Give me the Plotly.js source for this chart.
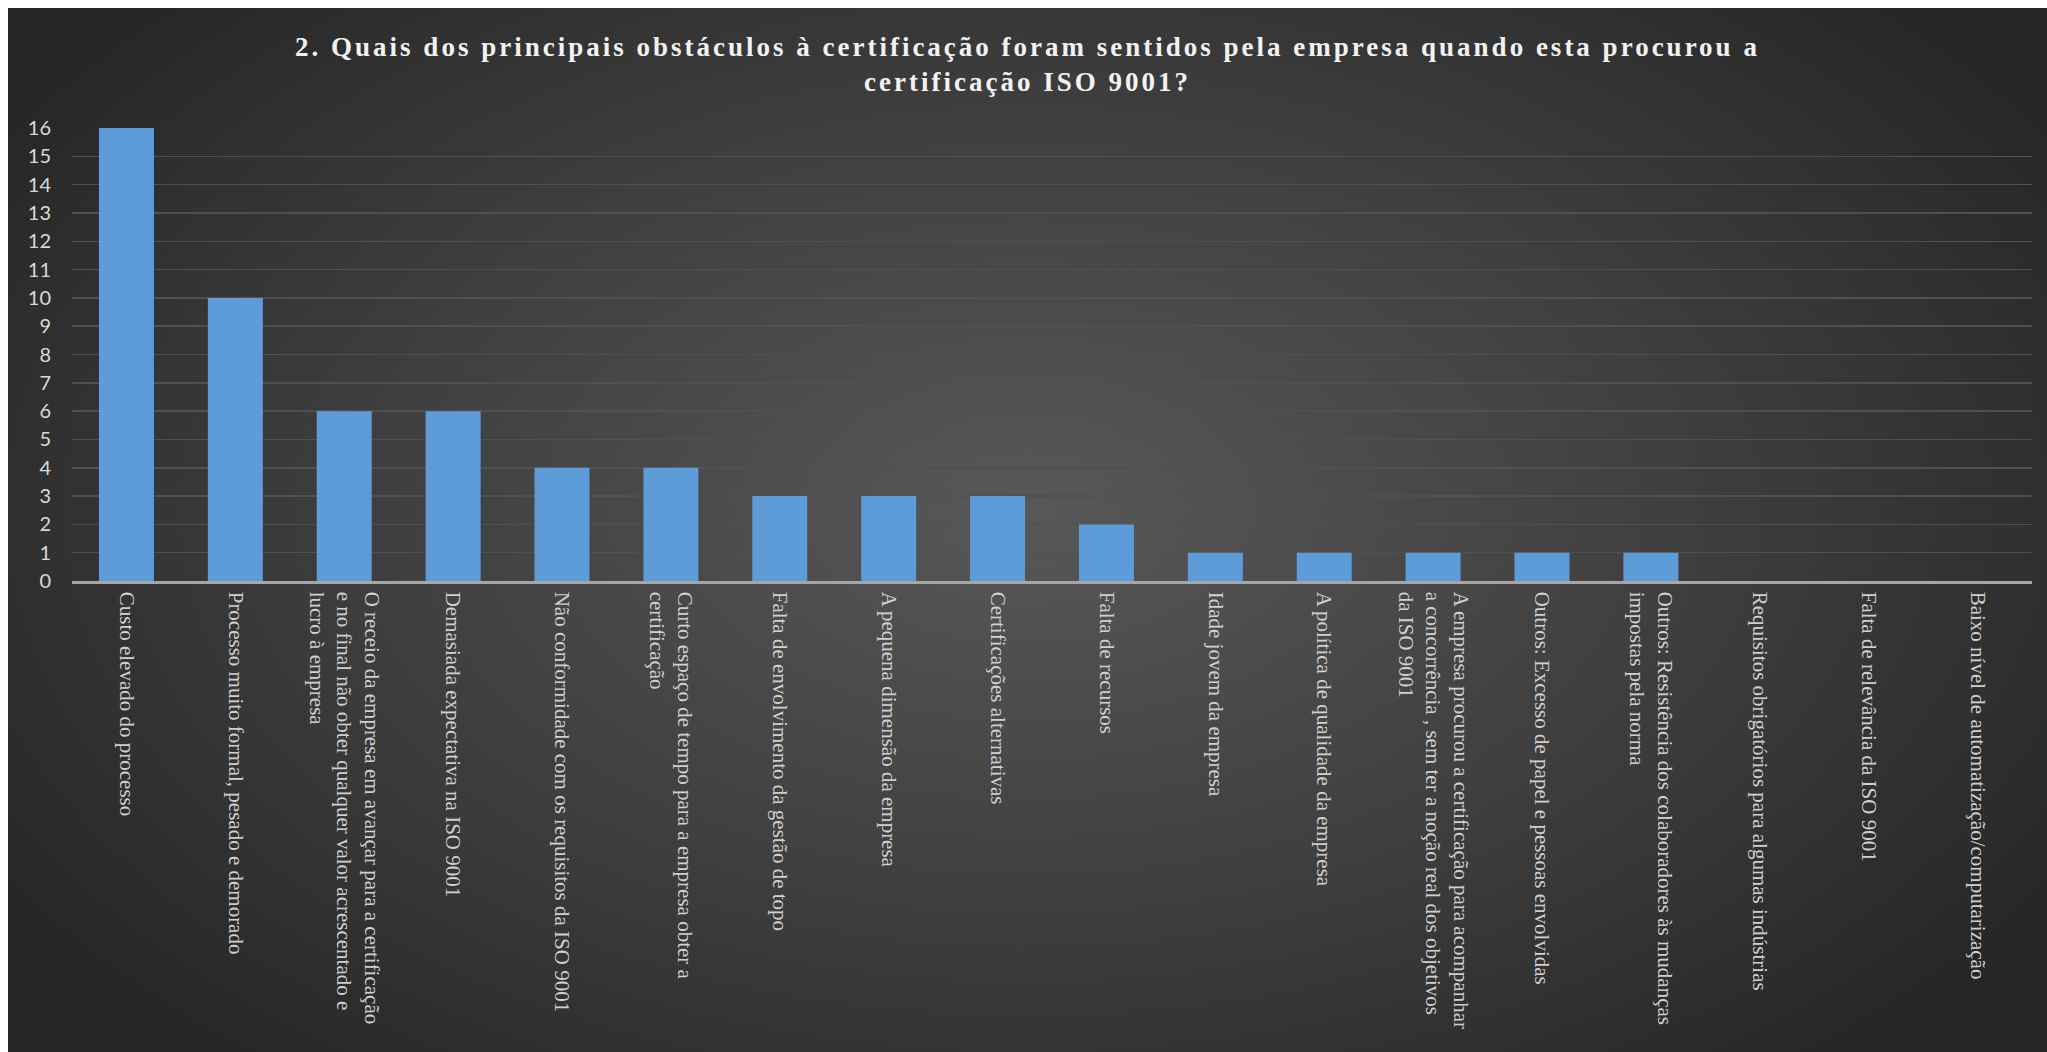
<!DOCTYPE html>
<html>
<head>
<meta charset="utf-8">
<script src="https://cdn.plot.ly/plotly-3.0.1.min.js"></script>
<style>
  html, body { margin: 0; padding: 0; background: #ffffff; width: 2047px; height: 1052px; overflow: hidden; }
  #wrap { position: absolute; left: 8px; top: 8px; width: 2039px; height: 1044px;
          background: radial-gradient(ellipse 60% 70% at 50% 48%, #585858 0%, #3e3e3e 55%, #262626 100%); }
  #chart { width: 2039px; height: 1044px; }
  .gtitle { letter-spacing: 3px; }
</style>
</head>
<body>
<div id="wrap"><div id="chart"></div></div>
<script>
const titleText = "2. Quais dos principais obstáculos à certificação foram sentidos pela empresa quando esta procurou a<br>certificação ISO 9001?";

const categories = [
  "Custo elevado do processo",
  "Processo muito formal, pesado e demorado",
  "O receio da empresa em avançar para a certificação<br>e no final não obter qualquer valor acrescentado e<br>lucro à empresa",
  "Demasiada expectativa na ISO 9001",
  "Não conformidade com os requisitos da ISO 9001",
  "Curto espaço de tempo para a empresa obter a<br>certificação",
  "Falta de envolvimento da gestão de topo",
  "A pequena dimensão da empresa",
  "Certificações alternativas",
  "Falta de recursos",
  "Idade jovem da empresa",
  "A política de qualidade da empresa",
  "A empresa procurou a certificação para acompanhar<br>a concorrência , sem ter a noção real dos objetivos<br>da ISO 9001",
  "Outros: Excesso de papel e pessoas envolvidas",
  "Outros: Resistência dos colaboradores às mudanças<br>impostas pela norma",
  "Requisitos obrigatórios para algumas indústrias",
  "Falta de relevância da ISO 9001",
  "Baixo nível de automatização/computarização"
];

const counts = [16, 10, 6, 6, 4, 4, 3, 3, 3, 2, 1, 1, 1, 1, 1, 0, 0, 0];

const yTicks = [0,1,2,3,4,5,6,7,8,9,10,11,12,13,14,15,16];

const trace = {
  type: 'bar',
  x: categories,
  y: counts,
  marker: { color: '#5d9cd8', line: { width: 0 } },
  hoverinfo: 'x+y'
};

const layout = {
  width: 2039,
  height: 1044,
  paper_bgcolor: 'rgba(0,0,0,0)',
  plot_bgcolor: 'rgba(0,0,0,0)',
  margin: { l: 64, r: 15, t: 120, b: 471 },
  bargap: 0.495,
  showlegend: false,
  title: {
    text: titleText,
    x: 0.5,
    xanchor: 'center',
    y: 0.954,
    yanchor: 'top',
    yref: 'container',
    font: { family: '"Liberation Serif", "Times New Roman", serif', size: 27, color: '#f2f2f2', weight: 'bold' }
  },
  xaxis: {
    type: 'category',
    tickangle: 90,
    tickfont: { family: '"Liberation Serif", "Times New Roman", serif', size: 21, color: '#d0d0d0' },
    showline: true,
    linecolor: '#a6a6a6',
    linewidth: 2.5,
    ticks: '',
    showgrid: false,
    zeroline: false,
    automargin: false,
    ticklabelstandoff: 4
  },
  yaxis: {
    range: [0, 16],
    tickmode: 'array',
    tickvals: yTicks,
    ticktext: yTicks.map(String),
    tickfont: { family: 'Lato, "Open Sans", sans-serif', size: 20, color: '#d9d9d9' },
    showgrid: true,
    gridcolor: '#505050',
    gridwidth: 1.5,
    zeroline: false,
    showline: false,
    ticks: '',
    automargin: false,
    ticklabelstandoff: 20
  }
};

Plotly.newPlot('chart', [trace], layout, { displayModeBar: false, staticPlot: true });
</script>
</body>
</html>
